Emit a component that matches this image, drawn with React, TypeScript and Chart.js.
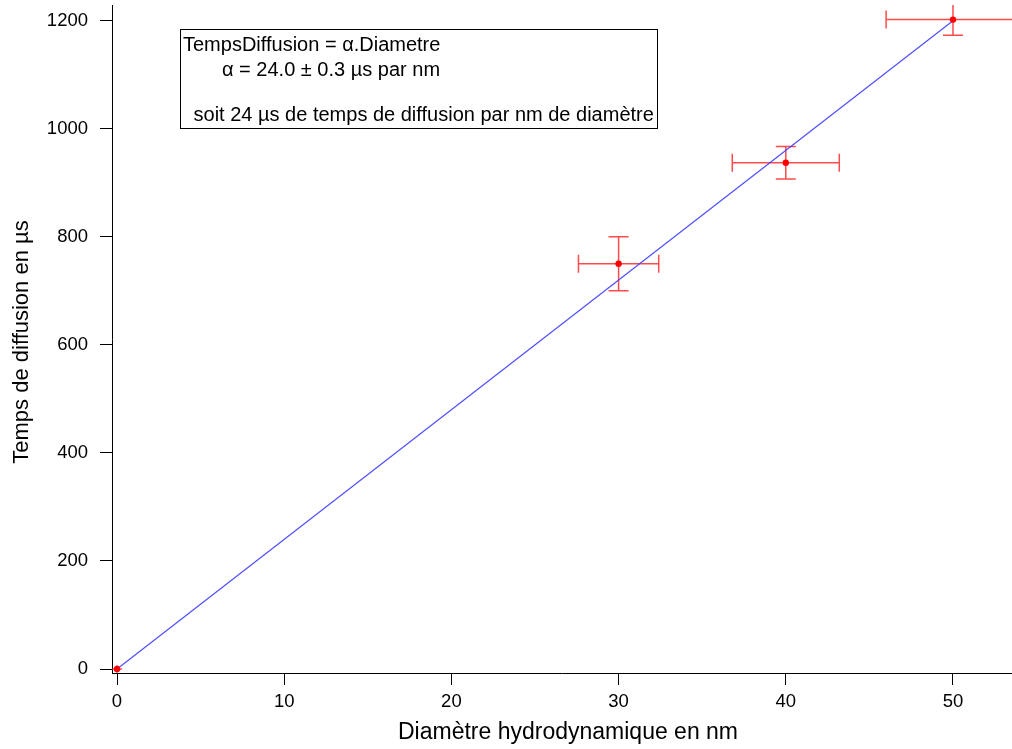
import React, { useEffect, useRef } from "react";
import { Chart, registerables } from "chart.js";

Chart.register(...registerables);

// ---- data ----
const diameters = [0, 30, 40, 50];
const times = [0, 750, 937, 1202];
const diameterErr = [0.3, 2.4, 3.2, 4.0];
const timeErr = [7, 50, 30, 29];
const fitX = [0, 50];
const fitY = [0, 1200];
const xTicks = [0, 10, 20, 30, 40, 50];
const yTicks = [0, 200, 400, 600, 800, 1000, 1200];
const annotationLines = [
  "TempsDiffusion = \u03b1.Diametre",
  "\u03b1 = 24.0 \u00b1 0.3 \u00b5s par nm",
  "",
  " soit 24 \u00b5s de temps de diffusion par nm de diam\u00e8tre",
];
const xTitle = "Diam\u00e8tre hydrodynamique en nm";
const yTitle = "Temps de diffusion en \u00b5s";

const FONT = "'Liberation Sans', Arial, sans-serif";
const ERR_COLOR = "rgba(255,30,30,0.8)";

const errorBarPlugin = {
  id: "errorBars",
  beforeDatasetsDraw(chart: any) {
    const { ctx, chartArea, scales } = chart;
    const xs = scales.x;
    const ys = scales.y;
    ctx.save();
    ctx.beginPath();
    ctx.rect(chartArea.left, chartArea.top, chartArea.right - chartArea.left, chartArea.bottom - chartArea.top);
    ctx.clip();
    ctx.strokeStyle = ERR_COLOR;
    ctx.lineWidth = 1.5;
    const cap = 10;
    const capV = 9;
    diameters.forEach((d, i) => {
      const px = xs.getPixelForValue(d);
      const py = ys.getPixelForValue(times[i]);
      const x1 = xs.getPixelForValue(d - diameterErr[i]);
      const x2 = xs.getPixelForValue(d + diameterErr[i]);
      const y1 = ys.getPixelForValue(times[i] - timeErr[i]);
      const y2 = ys.getPixelForValue(times[i] + timeErr[i]);
      ctx.beginPath();
      ctx.moveTo(x1, py);
      ctx.lineTo(x2, py);
      ctx.moveTo(px, y1);
      ctx.lineTo(px, y2);
      if (x2 - x1 > 2 * capV) {
        ctx.moveTo(x1, py - capV);
        ctx.lineTo(x1, py + capV);
        ctx.moveTo(x2, py - capV);
        ctx.lineTo(x2, py + capV);
      }
      if (y1 - y2 > 2 * cap) {
        ctx.moveTo(px - cap, y1);
        ctx.lineTo(px + cap, y1);
        ctx.moveTo(px - cap, y2);
        ctx.lineTo(px + cap, y2);
      }
      ctx.stroke();
    });
    ctx.restore();
  },
};

const textPlugin = {
  id: "annotationBox",
  afterDraw(chart: any) {
    const { ctx } = chart;
    ctx.save();
    // axis titles
    ctx.fillStyle = "#000";
    ctx.textAlign = "center";
    ctx.textBaseline = "middle";
    ctx.font = `23px ${FONT}`;
    ctx.fillText(xTitle, 568, 733);
    ctx.save();
    ctx.translate(22, 342);
    ctx.rotate(-Math.PI / 2);
    ctx.font = `22px ${FONT}`;
    ctx.fillText(yTitle, 0, 0);
    ctx.restore();
    // annotation box
    const bx = 180.5, by = 29.5, bw = 477, bh = 99;
    ctx.fillStyle = "#fff";
    ctx.fillRect(bx, by, bw, bh);
    ctx.strokeStyle = "#000";
    ctx.lineWidth = 1;
    ctx.strokeRect(bx, by, bw, bh);
    ctx.fillStyle = "#000";
    ctx.font = `20px ${FONT}`;
    ctx.textBaseline = "middle";
    ctx.textAlign = "left";
    const positions = [
      [183, 45],
      [222, 70],
      [188, 92],
      [188, 115],
    ];
    annotationLines.forEach((t, i) => {
      ctx.fillText(t, positions[i][0], positions[i][1]);
    });
    ctx.restore();
  },
};

export default function App() {
  const ref = useRef<HTMLCanvasElement | null>(null);
  useEffect(() => {
    if (!ref.current) return;
    const chart = new Chart(ref.current, {
      type: "scatter",
      data: {
        datasets: [
          {
            label: "mesures",
            data: diameters.map((d, i) => ({ x: d, y: times[i] })),
            backgroundColor: "#ff0000",
            borderColor: "#ff0000",
            pointRadius: 3.2,
            pointBorderWidth: 0,
            showLine: false,
          },
          {
            label: "ajustement",
            data: fitX.map((x, i) => ({ x, y: fitY[i] })),
            borderColor: "rgba(60,60,255,0.9)",
            borderWidth: 1.2,
            pointRadius: 0,
            showLine: true,
            fill: false,
          },
        ],
      },
      options: {
        responsive: false,
        animation: false,
        layout: { padding: { top: 5, right: 0, left: 0, bottom: 0 } },
        plugins: {
          legend: { display: false },
          tooltip: { enabled: false },
        },
        scales: {
          x: {
            type: "linear",
            min: -0.3,
            max: 53.53,
            afterBuildTicks: (s: any) => {
              s.ticks = xTicks.map((v) => ({ value: v }));
            },
            afterFit: (s: any) => {
              s.height = 76;
              s.paddingLeft = 0;
              s.paddingRight = 0;
              s.paddingTop = 0;
              s.paddingBottom = 0;
            },
            grid: {
              drawOnChartArea: false,
              drawTicks: true,
              tickLength: 12,
              tickColor: "#000",
              color: "#000",
            },
            border: { display: true, color: "#000", width: 1 },
            ticks: {
              color: "#000",
              font: { family: FONT, size: 18.5 },
              padding: 6,
              maxRotation: 0,
              callback: (v: any) => String(v),
            },
            title: { display: false, text: xTitle },
          },
          y: {
            type: "linear",
            min: -7.4,
            max: 1229,
            afterBuildTicks: (s: any) => {
              s.ticks = yTicks.map((v) => ({ value: v }));
            },
            afterFit: (s: any) => {
              s.width = 112;
              s.paddingLeft = 0;
              s.paddingRight = 0;
              s.paddingTop = 0;
              s.paddingBottom = 0;
            },
            grid: {
              drawOnChartArea: false,
              drawTicks: true,
              tickLength: 12,
              tickColor: "#000",
              color: "#000",
            },
            border: { display: true, color: "#000", width: 1 },
            ticks: {
              color: "#000",
              font: { family: FONT, size: 18.5 },
              padding: 12,
              callback: (v: any) => String(v),
            },
            title: { display: false, text: yTitle },
          },
        },
      },
      plugins: [errorBarPlugin, textPlugin],
    });
    return () => chart.destroy();
  }, []);
  return (
    <div style={{ position: "absolute", left: 0, top: 0, width: 1012, height: 749, overflow: "hidden", background: "#fff" }}>
      <canvas ref={ref} width={1016} height={749} style={{ display: "block" }} />
    </div>
  );
}
